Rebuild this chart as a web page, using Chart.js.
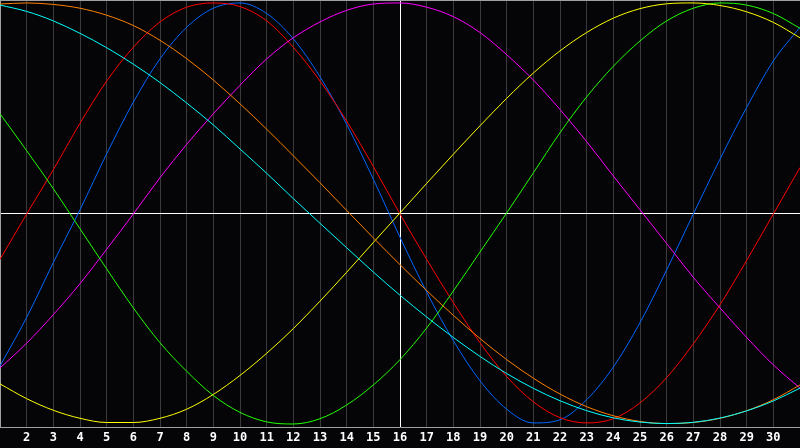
<!DOCTYPE html>
<html>
<head>
<meta charset="utf-8">
<script src="https://cdn.jsdelivr.net/npm/chart.js@4/dist/chart.umd.min.js"></script>
<style>
html,body{margin:0;padding:0;background:#050508;overflow:hidden;}
#wrap{width:800px;height:448px;position:relative;}
</style>
</head>
<body>
<div id="wrap"><canvas id="c" width="800" height="448"></canvas></div>
<script>
// Days of the month (x axis)
const days = [1,2,3,4,5,6,7,8,9,10,11,12,13,14,15,16,17,18,19,20,21,22,23,24,25,26,27,28,29,30,31];
// Tick labels shown under the axis
const tickLabels = ['2','3','4','5','6','7','8','9','10','11','12','13','14','15','16','17','18','19','20','21','22','23','24','25','26','27','28','29','30'];
const markedDay = 16;

// Series values (-100..100)
const blue    = [-72,-49,-23,2,28.5,53,73.5,88.5,97.5,100,95,83,65,42.5,16.5,-11,-37,-60,-79,-92.5,-99,-97.5,-88,-72.5,-51.5,-26.5,0,26,50.5,72.5,88.5];
const red     = [-21.5,0,21,43,63,79,91,98,100,98.3,91.5,79,63,44,22.5,0,-21.5,-42,-61,-77,-89,-96.5,-99,-97,-89.5,-77.5,-61.5,-43,-22,0,22];
const green   = [47.5,30,12,-7,-26,-44.5,-61,-74.5,-86,-94,-98.5,-99.5,-97,-90.5,-81,-69,-54,-36.5,-18,0.5,19.5,38.5,55.5,70,82,91.5,97.5,100,99,95,88];
const magenta = [-73,-61.2,-47.7,-33,-16.7,0,17.2,33,47.5,61,73.5,83.5,91,96.5,99.5,100,98,93.5,86,75.5,63.5,49.5,34.3,18,2,-14,-30,-44.5,-58.5,-71.5,-82.5];
const yellow  = [-80.5,-87.5,-93,-96.8,-98.8,-98.8,-96.8,-92.5,-85.5,-76.5,-66,-54.3,-41.3,-27.6,-13.5,0.5,14.5,28.3,41.8,54.8,66.8,77.3,86,92.8,97.3,99.6,100,98.8,95.8,90.8,83.5];
const orange  = [99.5,100,99.3,97.5,94.2,89.3,82.3,73.6,63.5,52.2,40.2,27.6,14.8,1.7,-11.3,-24,-36.3,-48,-59,-69,-77.8,-85.3,-91.3,-95.6,-98.3,-99.3,-98.8,-96.8,-93.2,-88,-81];
const cyan    = [99,96,91.5,85.6,78.8,71,62.3,52.6,42.2,30.8,19.3,7.3,-4.4,-16,-27.5,-38.5,-48.8,-58.5,-67.5,-75.6,-82.6,-88.5,-93.2,-96.6,-98.6,-99.3,-98.7,-96.7,-93.3,-88.6,-82.5];

const seriesNames  = ['cyan','orange','yellow','green','magenta','red','blue'];
const seriesValues = [cyan, orange, yellow, green, magenta, red, blue];
const seriesColors = ['#00ffff','#ff8000','#ffff00','#22ff00','#ff00ff','#ff0000','#0066ff'];

const datasets = seriesValues.map((vals, i) => ({
  label: seriesNames[i],
  data: days.map((d, j) => ({x: d, y: vals[j]})),
  borderColor: seriesColors[i],
  backgroundColor: seriesColors[i],
  borderWidth: 1,
  pointRadius: 0,
  cubicInterpolationMode: 'monotone',
  fill: false
}));

const bgPlugin = {
  id: 'bg',
  beforeDraw(chart) {
    const ctx = chart.ctx;
    ctx.save();
    ctx.fillStyle = '#050508';
    ctx.fillRect(0, 0, chart.width, chart.height);
    ctx.restore();
  },
  afterDraw(chart) {
    const a = chart.chartArea, ctx = chart.ctx;
    ctx.save();
    ctx.strokeStyle = '#a0a0a0';
    ctx.lineWidth = 1;
    ctx.beginPath();
    ctx.moveTo(a.left, 0.5);
    ctx.lineTo(a.right, 0.5);
    ctx.stroke();
    ctx.restore();
  }
};

new Chart(document.getElementById('c'), {
  type: 'line',
  data: { datasets },
  options: {
    responsive: false,
    animation: false,
    layout: { padding: 0 },
    plugins: { legend: { display: false }, tooltip: { enabled: false } },
    scales: {
      x: {
        type: 'linear',
        min: days[0],
        max: days[days.length - 1],
        afterBuildTicks(scale) {
          scale.ticks = days.map(d => ({ value: d }));
        },
        ticks: {
          autoSkip: false,
          maxRotation: 0,
          padding: 0,
          color: '#ffffff',
          font: { family: 'DejaVu Sans Mono', size: 12, weight: 'bold', lineHeight: 1.667 },
          callback: (v) => tickLabels.includes(String(v)) ? String(v) : ''
        },
        grid: {
          drawTicks: false,
          color: (ctx) => {
            const v = ctx.tick && ctx.tick.value;
            if (v === markedDay) return '#ffffff';
            if (v === days[0] || v === days[days.length - 1]) return 'rgba(0,0,0,0)';
            return '#3a3a3a';
          },
          lineWidth: 1
        },
        border: { display: true, color: '#a0a0a0', width: 1 }
      },
      y: {
        min: -101.4,
        max: 101.4,
        afterBuildTicks(scale) {
          scale.ticks = [{ value: 0 }];
        },
        ticks: { display: false },
        grid: { drawTicks: false, color: '#ffffff', lineWidth: 1 },
        border: { display: true, color: '#a0a0a0', width: 1 }
      }
    }
  },
  plugins: [bgPlugin]
});
</script>
</body>
</html>
